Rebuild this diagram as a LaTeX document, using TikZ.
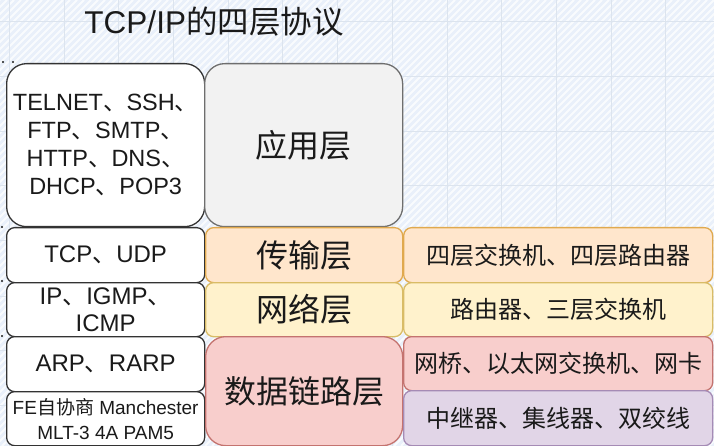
\documentclass[tikz,border=0pt]{standalone}
\usepackage{fontspec}
\setmainfont{Liberation Sans}
\newfontfamily\cjk{Noto Sans CJK SC}
\newcommand\zh[1]{{\cjk #1}}
\definecolor{txt}{HTML}{1A1A1A}
\definecolor{bgblue}{HTML}{E9F0FA}
\definecolor{gridc}{HTML}{DCE4EE}
\definecolor{darkline}{HTML}{333333}
\definecolor{grayfill}{HTML}{F2F2F2}
\definecolor{grayline}{HTML}{6E6E6E}
\definecolor{orfill}{HTML}{FFE6CC}
\definecolor{orline}{HTML}{E0A94E}
\definecolor{yefill}{HTML}{FFF2CC}
\definecolor{yeline}{HTML}{D9BC66}
\definecolor{rdfill}{HTML}{F8CECC}
\definecolor{rdline}{HTML}{C4736F}
\definecolor{pufill}{HTML}{E1D5E7}
\definecolor{puline}{HTML}{A58BB5}
\tikzset{
  box/.style={draw, line width=1.3pt, anchor=north west, inner sep=0pt,
    align=center, text=txt},
  protobox/.style={box, draw=darkline, fill=white},
  bigr/.style={rounded corners=20pt},
  smallr/.style={rounded corners=8pt},
  fprot/.style={font=\fontsize{24}{27}\selectfont},
  flayer/.style={font=\cjk\fontsize{32}{36}\selectfont},
  fdev/.style={font=\cjk\fontsize{24}{27}\selectfont},
}
\begin{document}
\begin{tikzpicture}[x=1pt,y=-1pt]
\useasboundingbox (0,0) rectangle (714,446);
% background
\begin{scope}
\clip (0,0) rectangle (714,446);
\fill[bgblue] (0,0) rectangle (714,446);
\foreach \i in {-460,-453,...,720}
  \draw[white, line width=1.8pt, opacity=0.75] (\i,446) -- ++(446,-446);
\foreach \gx in {0,54.7,...,714} \draw[gridc, line width=1pt] (\gx+9.4,0) -- (\gx+9.4,446);
\foreach \gy in {22,77,132,186,241,296,350,405} \draw[gridc, line width=1pt] (0,\gy) -- (714,\gy);
\end{scope}
% title
\node[text=txt, font=\fontsize{31.5}{34}\selectfont] (title) at (214,22) {TCP/IP\zh{的四层协议}};
% small dots
\fill[txt] (3,62) circle (1.2pt) (13,62) circle (1.2pt)
  (2,227) circle (1.2pt) (2,281) circle (1.2pt) (2,336) circle (1.2pt);
% left column
\node[protobox, bigr, minimum width=198pt, minimum height=163pt,
  font=\fontsize{23.5}{28}\selectfont] (app) at (6,63)
  {TELNET\zh{、}SSH\zh{、}\\FTP\zh{、}SMTP\zh{、}\\HTTP\zh{、}DNS\zh{、}\\DHCP\zh{、}POP3};
\node[protobox, smallr, fprot, minimum width=198pt, minimum height=55pt] (tcp) at (6,227) {TCP\zh{、}UDP};
\node[protobox, smallr, fprot, minimum width=198pt, minimum height=54pt] (ip) at (6,282) {IP\zh{、}IGMP\zh{、}\\ICMP};
\node[protobox, smallr, fprot, minimum width=198pt, minimum height=55pt] (arp) at (6,336) {ARP\zh{、}RARP};
\node[protobox, smallr, minimum width=198pt, minimum height=54pt,
  font=\fontsize{19}{25}\selectfont] (fe) at (6,391) {FE\zh{自协商} Manchester\\MLT-3 4A PAM5};
% middle column
\node[box, bigr, draw=grayline, fill=grayfill, flayer, minimum width=198pt, minimum height=163pt] (l4) at (204,63) {应用层};
\node[box, smallr, draw=orline, fill=orfill, flayer, minimum width=197pt, minimum height=55pt] (l3) at (205,227) {传输层};
\node[box, smallr, draw=yeline, fill=yefill, flayer, minimum width=197pt, minimum height=54pt] (l2) at (205,282) {网络层};
\node[box, bigr, draw=rdline, fill=rdfill, flayer, minimum width=197pt, minimum height=109pt] (l1) at (205,336) {数据链路层};
% right column
\node[box, smallr, draw=orline, fill=orfill, fdev, minimum width=309pt, minimum height=55pt] (d4) at (403,227) {四层交换机、四层路由器};
\node[box, smallr, draw=yeline, fill=yefill, fdev, minimum width=309pt, minimum height=54pt] (d3) at (403,282) {路由器、三层交换机};
\node[box, smallr, draw=rdline, fill=rdfill, fdev, minimum width=309pt, minimum height=54pt] (d2) at (403,336) {网桥、以太网交换机、网卡};
\node[box, smallr, draw=puline, fill=pufill, fdev, minimum width=309pt, minimum height=55pt] (d1) at (403,390) {中继器、集线器、双绞线};
\end{tikzpicture}
\end{document}
